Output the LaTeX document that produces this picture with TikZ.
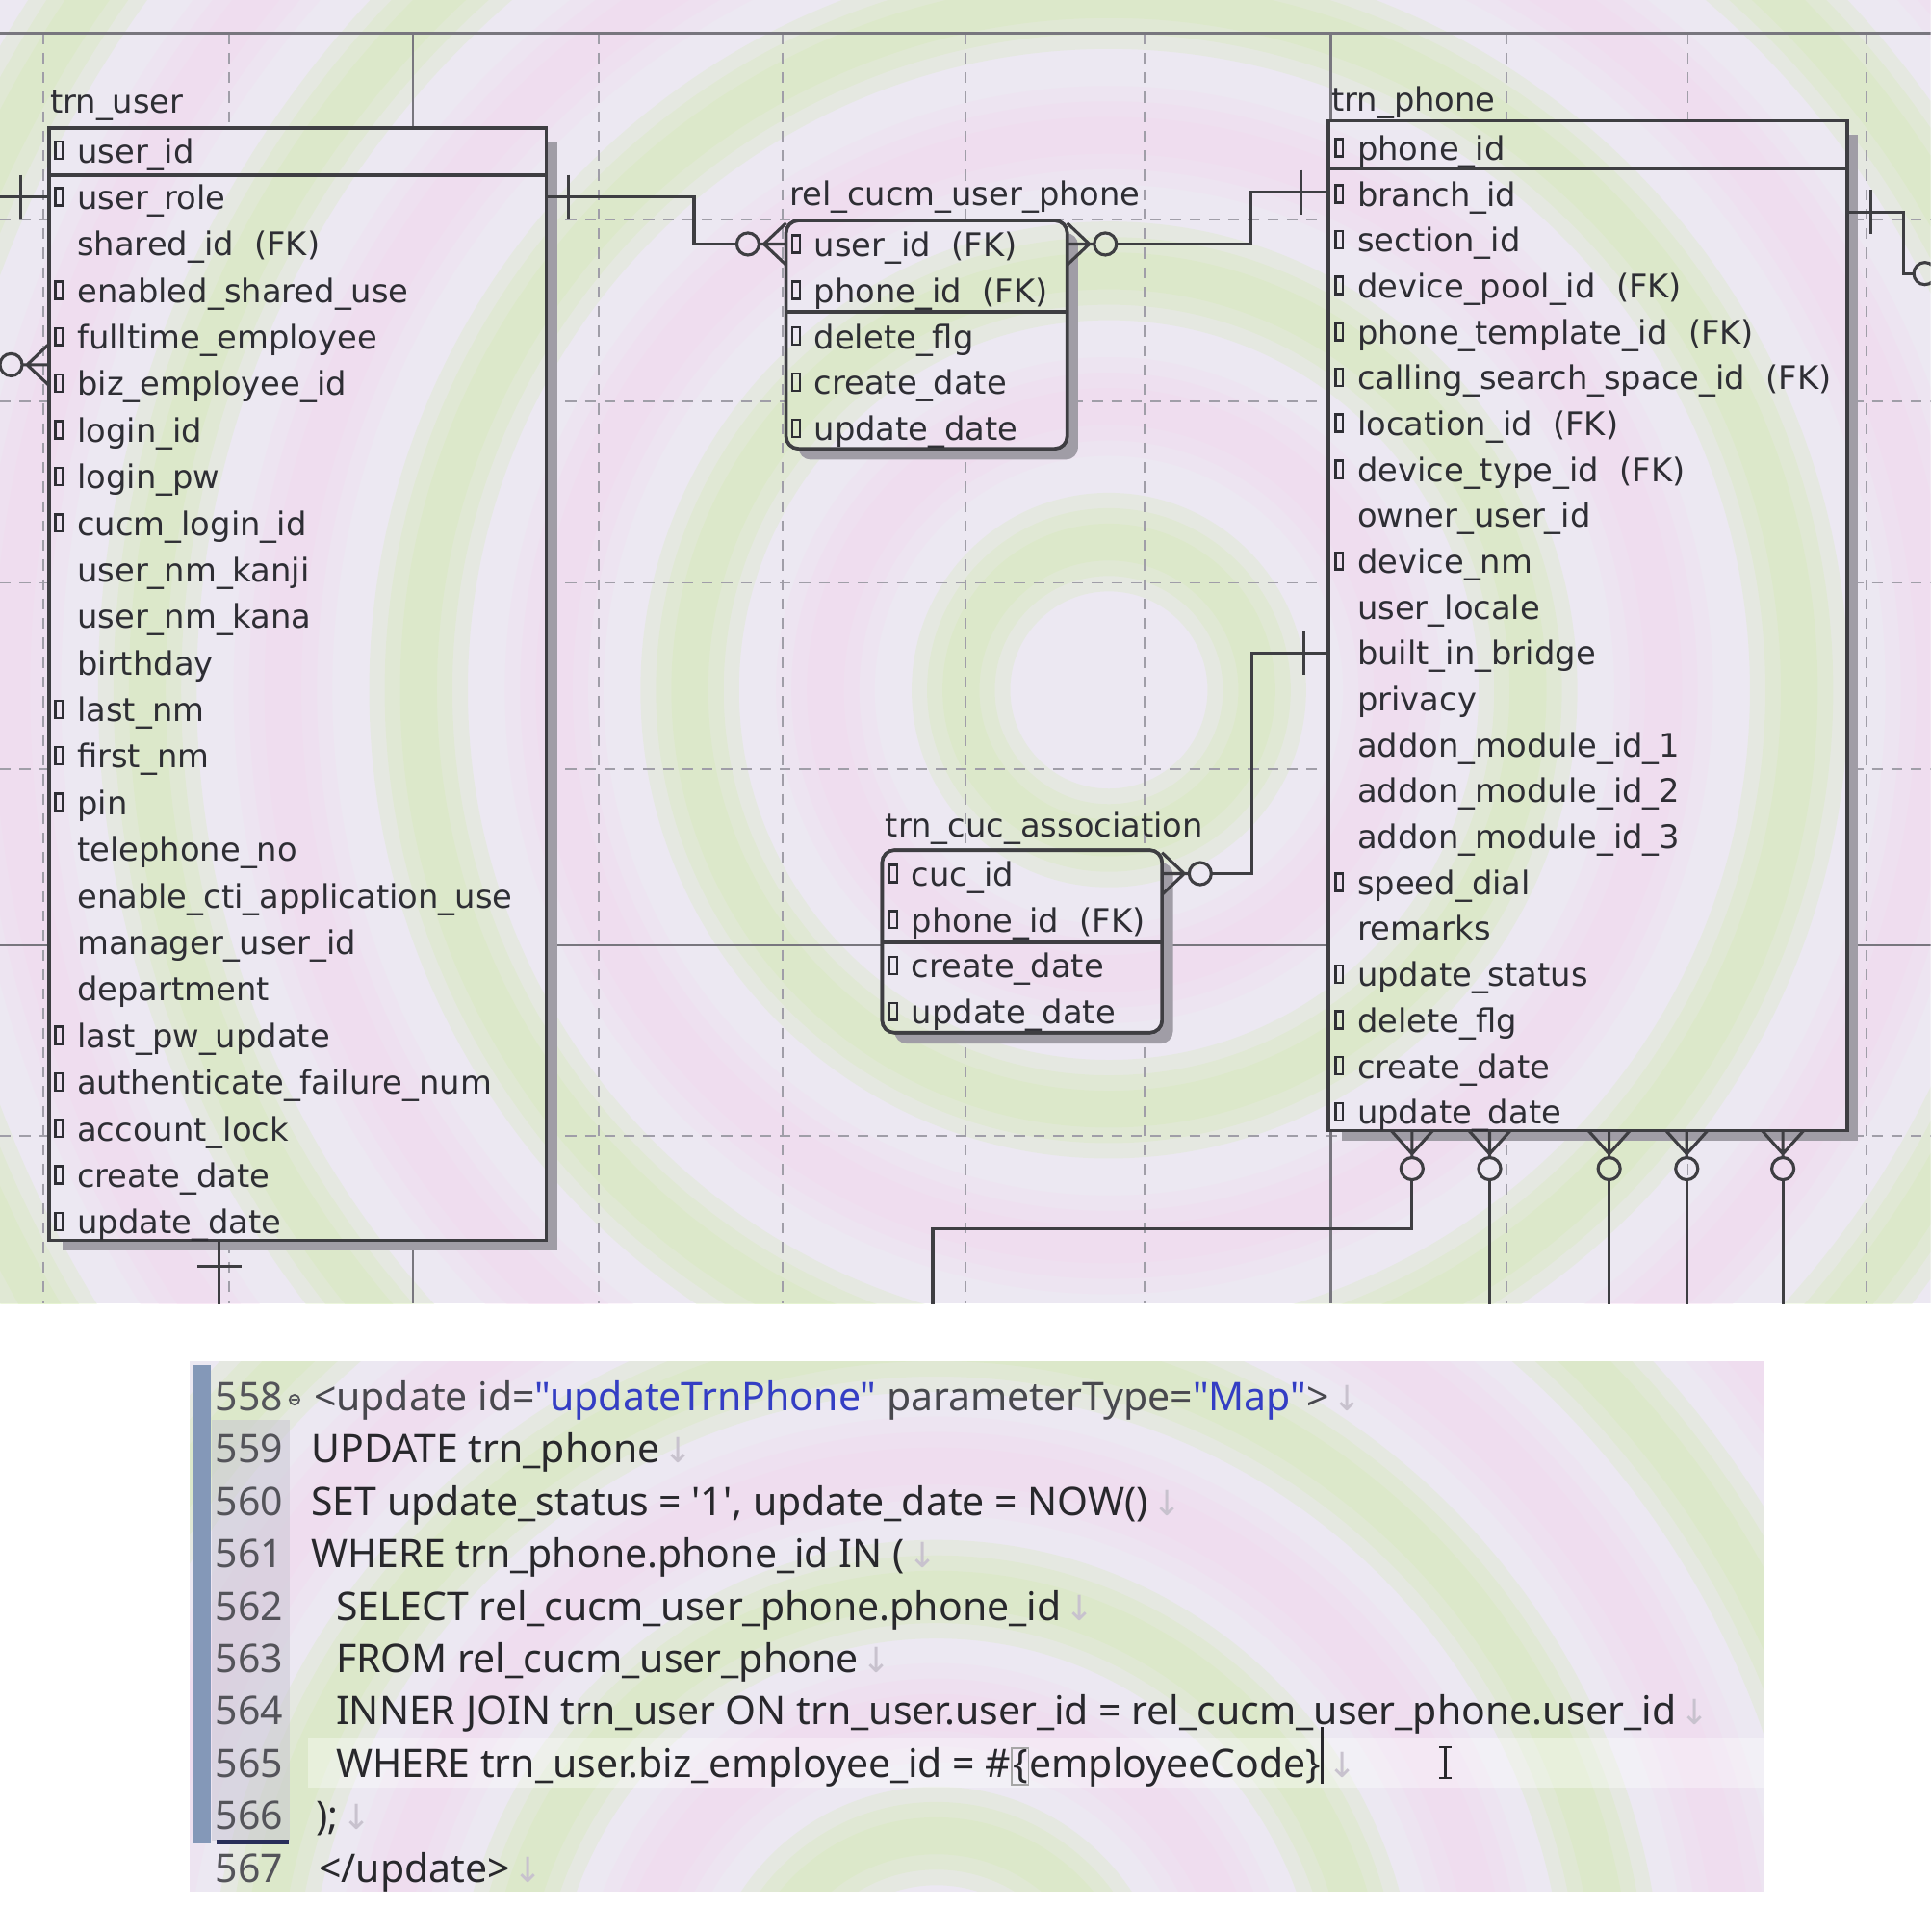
\documentclass[tikz,border=0pt]{standalone}
\usepackage{fontspec}
\setmainfont{DejaVu Sans}
\newfontfamily\codefont{Noto Sans}
\newfontfamily\arrowfont{DejaVu Sans}
\usetikzlibrary{positioning}
\definecolor{ink}{RGB}{46,46,52}
\definecolor{lineclr}{RGB}{62,62,66}
\definecolor{gridclr}{RGB}{160,158,168}
\definecolor{pageclr}{RGB}{120,118,126}
\definecolor{shadowclr}{RGB}{160,157,166}
\definecolor{bgbase}{RGB}{236,232,242}
\definecolor{bggreen}{RGB}{208,234,168}
\definecolor{bgpink}{RGB}{244,214,238}
\definecolor{codeblue}{RGB}{52,62,196}
\definecolor{codeink}{RGB}{40,40,44}
\definecolor{tagclr}{RGB}{72,72,78}
\definecolor{numclr}{RGB}{84,84,90}
\definecolor{gutter}{RGB}{132,152,184}
\definecolor{gutterbg}{RGB}{200,198,210}
\definecolor{eolclr}{RGB}{200,194,206}
\definecolor{curline}{RGB}{40,46,90}
\tikzset{
 tbl/.style={draw=lineclr, line width=0.8pt, inner sep=0pt, outer sep=0pt, anchor=north west},
 rtbl/.style={tbl, rounded corners=0.1cm},
 field/.style={anchor=west, inner sep=0pt, text height=7.7pt, text depth=2pt, font=\fontsize{7.5}{9}\selectfont, text=ink},
 keyb/.style={draw=ink, line width=0.55pt, minimum width=0.06cm, minimum height=0.14cm, inner sep=0pt},
 conn/.style={draw=lineclr, line width=0.7pt},
 gridln/.style={draw=gridclr, line width=0.4pt, dash pattern=on 2.5pt off 2pt},
 pageln/.style={draw=pageclr, line width=0.5pt},
 dropsh/.style={fill=shadowclr},
 band/.style={line width=#1, opacity=0.22},
 codeln/.style={anchor=base west, inner sep=0pt, font=\codefont\fontsize{9.1}{11}\selectfont, text=codeink},
 lnum/.style={codeln, text=numclr},
}
\newcommand\rings[5]{% centre, first radius, step, count, colour
 \foreach \q in {0,...,#4} {
  \foreach \w in {0.3cm,0.55cm,0.8cm} {\draw[#5, band=\w] (#1) circle[radius={#2+\q*#3}];}
 }}
\newcommand\bgpaint{%
 \fill[bgbase] (0,0) rectangle (1567,1058);
 \rings{900,560}{1.2cm}{2.2cm}{5}{bggreen}
 \rings{900,560}{2.3cm}{2.2cm}{4}{bgpink}
}
\newcommand\codepaint{%
 \fill[bgbase] (154,1105) rectangle (1432,1535);
 \rings{760,1640}{1.5cm}{2cm}{3}{bggreen}
 \rings{760,1640}{2.5cm}{2cm}{3}{bgpink}
}
\newcommand\footL[1]{\draw[conn] ([shift={(0,-17)}]#1) -- ([shift={(-18,0)}]#1) -- ([shift={(0,17)}]#1) (#1) -- ([shift={(-22,0)}]#1);
 \draw[conn] ([shift={(-31,0)}]#1) circle[radius=0.09cm];}
\newcommand\footR[1]{\draw[conn] ([shift={(0,-17)}]#1) -- ([shift={(18,0)}]#1) -- ([shift={(0,17)}]#1) (#1) -- ([shift={(22,0)}]#1);
 \draw[conn] ([shift={(31,0)}]#1) circle[radius=0.09cm];}
\newcommand\footD[1]{\draw[conn] ([shift={(-17,0)}]#1) -- ([shift={(0,19)}]#1) -- ([shift={(17,0)}]#1) (#1) -- ([shift={(0,22)}]#1);
 \draw[conn] ([shift={(0,31)}]#1) circle[radius=0.09cm];}
\newcommand\vtick[2]{\draw[conn] ([shift={(#2,-18)}]#1) -- ([shift={(#2,18)}]#1);}
\newcommand\htick[2]{\draw[conn] ([shift={(-18,#2)}]#1) -- ([shift={(18,#2)}]#1);}
\newcommand\eolmark{\hspace{0.1em}{\arrowfont\fontsize{8}{8}\selectfont\color{eolclr}↓}}

\begin{document}
\begin{tikzpicture}[x=0.01cm, y=-0.01cm]
\useasboundingbox (0,0) rectangle (1567,1568);
\fill[white] (0,0) rectangle (1567,1568);

\begin{scope}
\clip (0,0) rectangle (1567,1058);
\bgpaint
\foreach \x in {35,186,486,635,784,929,1223,1370,1515} \draw[gridln] (\x,27) -- (\x,1058);
\foreach \y in {178,326,473,624,922} \draw[gridln] (0,\y) -- (1567,\y);
\foreach \x in {335,1080} \draw[pageln] (\x,27) -- (\x,1058);
\draw[pageln] (0,767) -- (1567,767);
\draw[pageln] (0,27) -- (1567,27);

\fill[dropsh] (51,115) rectangle (452,1015);
\fill[dropsh, rounded corners=0.1cm] (648,189) rectangle (875,373);
\fill[dropsh] (1089,109) rectangle (1508,926);
\fill[dropsh, rounded corners=0.1cm] (726,700) rectangle (952,847);

\node[tbl, minimum width=4.03cm, minimum height=9.02cm] (user) at (40,104) {};
\node[rtbl, minimum width=2.28cm, minimum height=1.85cm] (rel) at (638,179) {};
\node[tbl, minimum width=4.21cm, minimum height=8.19cm] (phone) at (1078,98) {};
\node[rtbl, minimum width=2.27cm, minimum height=1.48cm] (cuc) at (716,690) {};
\begin{scope}
\clip (user.north west) rectangle (user.south east);
\bgpaint
\end{scope}
\begin{scope}
\clip[rounded corners=0.1cm] (rel.north west) rectangle (rel.south east);
\bgpaint
\end{scope}
\begin{scope}
\clip (phone.north west) rectangle (phone.south east);
\bgpaint
\end{scope}
\begin{scope}
\clip[rounded corners=0.1cm] (cuc.north west) rectangle (cuc.south east);
\bgpaint
\end{scope}
\draw[tbl] (user.north west) rectangle (user.south east);
\draw[tbl, rounded corners=0.1cm] (rel.north west) rectangle (rel.south east);
\draw[tbl] (phone.north west) rectangle (phone.south east);
\draw[tbl, rounded corners=0.1cm] (cuc.north west) rectangle (cuc.south east);
\draw[tbl] (user.west |- 0,142) -- (user.east |- 0,142);
\draw[tbl] (rel.west |- 0,253) -- (rel.east |- 0,253);
\draw[tbl] (phone.west |- 0,137) -- (phone.east |- 0,137);
\draw[tbl] (cuc.west |- 0,765) -- (cuc.east |- 0,765);

\node[field] (tuser) at (40,82) {trn\_user};
\node[field] (trel) at (640,157) {rel\_cucm\_user\_phone};
\node[field] (tphone) at (1080,80) {trn\_phone};
\node[field] (tcuc) at (718,669) {trn\_cuc\_association};

\foreach \k/\nm [count=\i] in {1/user\_id, 1/user\_role, 0/shared\_id\ \ (FK), 1/enabled\_shared\_use,
 1/fulltime\_employee, 1/biz\_employee\_id, 1/login\_id, 1/login\_pw, 1/cucm\_login\_id, 0/user\_nm\_kanji,
 0/user\_nm\_kana, 0/birthday, 1/last\_nm, 1/first\_nm, 1/pin, 0/telephone\_no, 0/enable\_cti\_application\_use,
 0/manager\_user\_id, 0/department, 1/last\_pw\_update, 1/authenticate\_failure\_num, 1/account\_lock,
 1/create\_date, 1/update\_date}
{
 \node[field] (u\i) at (62,{122+(\i-1)*37.8}) {\nm};
 \ifnum\k=1 \node[keyb, left=0.1cm of u\i] (uk\i) {}; \fi
}
\foreach \nm [count=\i] in {user\_id\ \ (FK), phone\_id\ \ (FK), delete\_flg, create\_date, update\_date}
{
 \node[field] (r\i) at (660,{198+(\i-1)*37.4}) {\nm};
 \node[keyb, left=0.1cm of r\i] (rk\i) {};
}
\foreach \k/\nm [count=\i] in {1/phone\_id, 1/branch\_id, 1/section\_id, 1/device\_pool\_id\ \ (FK),
 1/phone\_template\_id\ \ (FK), 1/calling\_search\_space\_id\ \ (FK), 1/location\_id\ \ (FK),
 1/device\_type\_id\ \ (FK), 0/owner\_user\_id, 1/device\_nm, 0/user\_locale, 0/built\_in\_bridge,
 0/privacy, 0/addon\_module\_id\_1, 0/addon\_module\_id\_2, 0/addon\_module\_id\_3, 1/speed\_dial,
 0/remarks, 1/update\_status, 1/delete\_flg, 1/create\_date, 1/update\_date}
{
 \node[field] (p\i) at (1101,{120+(\i-1)*37.25}) {\nm};
 \ifnum\k=1 \node[keyb, left=0.1cm of p\i] (pk\i) {}; \fi
}
\foreach \nm [count=\i] in {cuc\_id, phone\_id\ \ (FK), create\_date, update\_date}
{
 \node[field] (c\i) at (739,{709+(\i-1)*37.3}) {\nm};
 \node[keyb, left=0.1cm of c\i] (ck\i) {};
}

\coordinate (uL1) at (user.west |- u2);
\coordinate (uL1e) at (-10,0 |- u2);
\draw[conn] (uL1) -- (uL1e);
\vtick{uL1}{-23}
\coordinate (uL2) at (user.west |- 0,296);
\coordinate (uL2e) at (-10,296);
\footL{uL2}
\draw[conn] ([shift={(-40,0)}]uL2) -- (uL2e);

\coordinate (uR) at (user.east |- u2);
\coordinate (rL) at (rel.west |- r1);
\draw[conn] (uR) -- ++(120,0) |- ([shift={(-40,0)}]rL);
\vtick{uR}{18}
\footL{rL}

\coordinate (rR) at (rel.east |- r1);
\coordinate (pL1) at (phone.west |- 0,156);
\coordinate (m1) at (1015,0);
\footR{rR}
\draw[conn] ([shift={(40,0)}]rR) -| (m1 |- pL1) -- (pL1);
\vtick{pL1}{-22}

\coordinate (cR) at (cuc.east |- c1);
\coordinate (pL2) at (phone.west |- p12);
\coordinate (m2) at (1016,0);
\footR{cR}
\draw[conn] ([shift={(40,0)}]cR) -| (m2 |- pL2) -- (pL2);
\vtick{pL2}{-20}

\coordinate (pR) at (phone.east |- 0,172);
\draw[conn] (pR) -- ++(46,0) |- ++(8,50);
\draw[conn] ([shift={(63,50)}]pR) circle[radius=0.09cm];
\vtick{pR}{19}

\foreach \x [count=\j] in {1146,1209,1306,1369,1447}
{
 \coordinate (pB\j) at (\x,0 |- phone.south);
 \footD{pB\j}
}
\coordinate (offB) at (757,1070);
\draw[conn] ([shift={(0,40)}]pB1) |- (offB |- 0,997) -- (offB);
\foreach \j in {2,...,5} \draw[conn] ([shift={(0,40)}]pB\j) -- (pB\j |- offB);

\coordinate (uB) at (178,0 |- user.south);
\draw[conn] (uB) -- (uB |- offB);
\htick{uB}{21}
\end{scope}

\begin{scope}
\clip (154,1105) rectangle (1432,1535);
\codepaint
\fill[white, opacity=0.35] (250,1410) rectangle (1432,1451);
\fill[gutterbg, opacity=0.5] (172,1152) rectangle (235,1494);
\fill[gutter] (156,1108) rectangle (171,1496);
\draw[curline, line width=1pt] (176,1495) -- (234,1495);
\end{scope}
\foreach \n [count=\i from 0] in {558,...,567}
 \node[lnum] (n\n) at (174,{1145+\i*42.5}) {\n};
\draw[numclr, line width=0.4pt] (239,1136) circle[radius=0.04cm] (236.5,1136) -- (241.5,1136);

\node[codeln, text=tagclr] (l558) at (254,1145) {<update id=\textcolor{codeblue}{"updateTrnPhone"} parameterType=\textcolor{codeblue}{"Map"}>\eolmark};
\node[codeln] (l559) at (252,1187.5) {UPDATE trn\_phone\eolmark};
\node[codeln] (l560) at (252,1230) {SET update\_status = \textquotesingle1\textquotesingle, update\_date = NOW()\eolmark};
\node[codeln] (l561) at (252,1272.5) {WHERE trn\_phone.phone\_id IN (\eolmark};
\node[codeln] (l562) at (272,1315) {SELECT rel\_cucm\_user\_phone.phone\_id\eolmark};
\node[codeln] (l563) at (272,1357.5) {FROM rel\_cucm\_user\_phone\eolmark};
\node[codeln] (l564) at (272,1400) {INNER JOIN trn\_user ON trn\_user.user\_id = rel\_cucm\_user\_phone.user\_id\eolmark};
\node[codeln] (l565) at (272,1442.5) {WHERE trn\_user.biz\_employee\_id = \#{\color{gray!70}\fboxsep0pt\fboxrule0.4pt\fbox{\color{codeink}\{}}employeeCode\}\rule[-0.3ex]{0.7pt}{2.7ex}\eolmark};
\node[codeln] (l566) at (256,1485) {);\eolmark};
\node[codeln] (l567) at (258,1527.5) {</update>\eolmark};
\draw[codeink, line width=0.6pt] (1173,1418) -- (1173,1443) (1168,1418) -- (1178,1418) (1168,1443) -- (1178,1443);
\end{tikzpicture}
\end{document}
